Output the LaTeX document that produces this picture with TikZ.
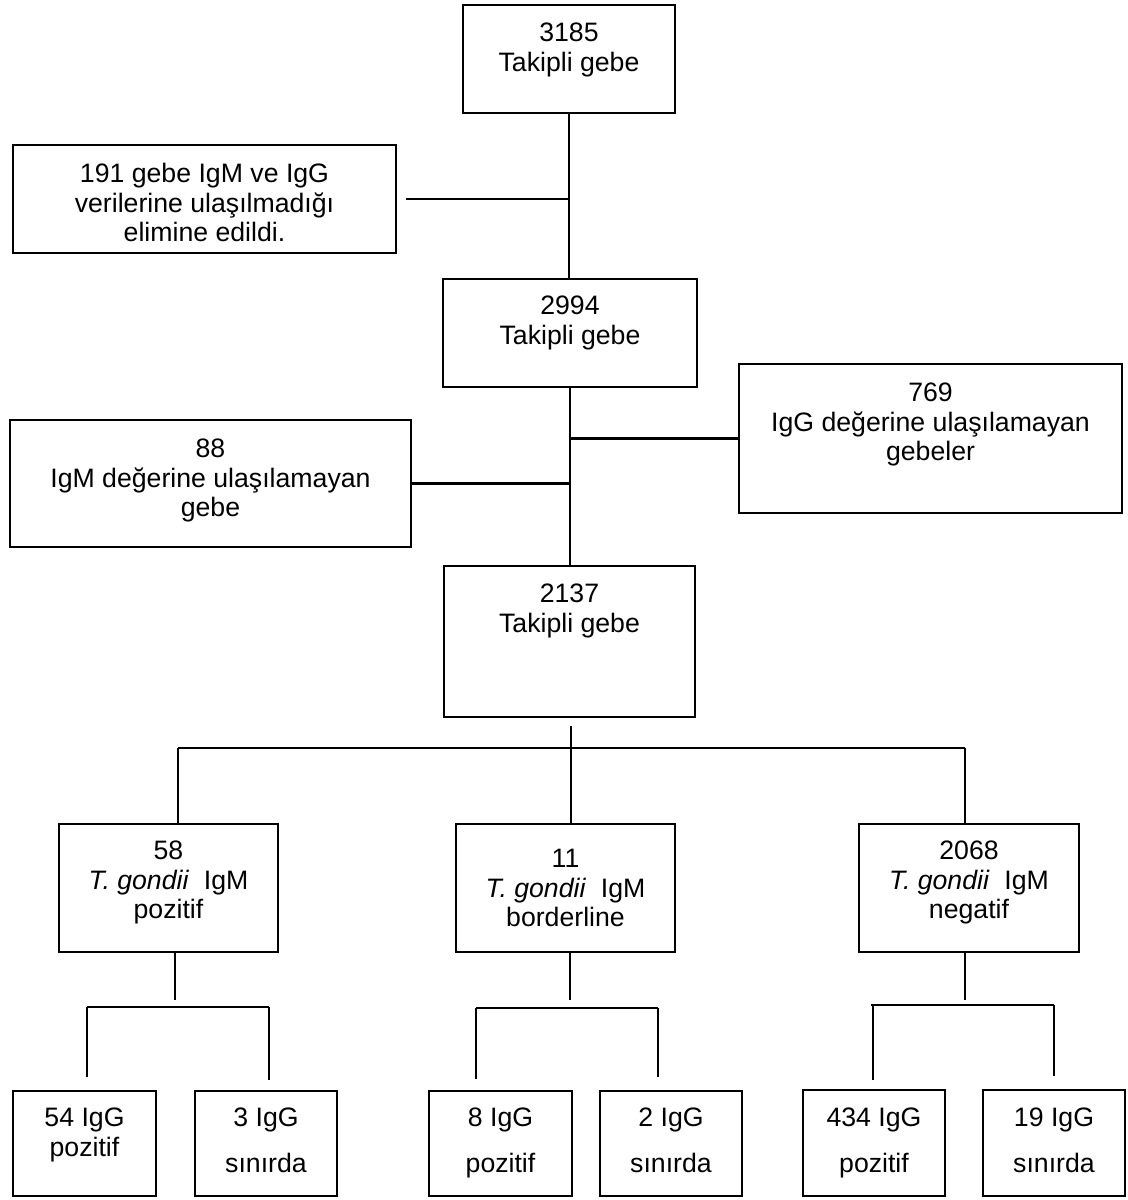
\documentclass[tikz,border=0pt]{standalone}
\usepackage{fontspec}
\setmainfont{Liberation Sans}
\usetikzlibrary{fit}
\begin{document}
\begin{tikzpicture}[x=0.75pt,y=-0.75pt,
  box/.style={draw=black, line width=2pt, inner sep=0pt},
  txt/.style={anchor=north, inner sep=0pt, align=center, font=\fontsize{20pt}{22.1pt}\selectfont},
  conn/.style={draw=black, line width=2pt}]
\useasboundingbox (0,0) rectangle (1128,1200);
\fill[white] (0,0) rectangle (1128,1200);

% boxes
\node[box, fit={(463,5) (675,113)}] (A) {};
\node[box, fit={(13,145) (396,253)}] (B) {};
\node[box, fit={(443,279) (697,387)}] (C) {};
\node[box, fit={(739,364) (1122,513)}] (D) {};
\node[box, fit={(10,420) (411,547)}] (E) {};
\node[box, fit={(444,566) (695,717)}] (F) {};
\node[box, fit={(59,824) (278,952)}] (G) {};
\node[box, fit={(456,824) (675,952)}] (H) {};
\node[box, fit={(859,824) (1079,952)}] (I) {};
\node[box, fit={(13,1091) (156,1196)}] (J) {};
\node[box, fit={(195,1091) (337,1196)}] (K) {};
\node[box, fit={(429,1091) (572,1196)}] (L) {};
\node[box, fit={(600,1091) (742,1196)}] (M) {};
\node[box, fit={(803,1090) (945,1196)}] (N) {};
\node[box, fit={(983,1090) (1125,1196)}] (O) {};

% texts
\node[txt] (At) at (569,23) {3185\\Takipli gebe};
\node[txt] (Bt) at (204.5,163) {191 gebe IgM ve IgG\\verilerine ulaşılmadığı\\elimine edildi.};
\node[txt] (Ct) at (570,296) {2994\\Takipli gebe};
\node[txt] (Dt) at (930.5,383) {769\\IgG değerine ulaşılamayan\\gebeler};
\node[txt] (Et) at (210.5,439) {88\\IgM değerine ulaşılamayan\\gebe};
\node[txt] (Ft) at (569.5,584) {2137\\Takipli gebe};
\node[txt] (Gt) at (168.5,841) {58\\\textit{T. gondii}\ \ IgM\\pozitif};
\node[txt] (Ht) at (565.5,849) {11\\\textit{T. gondii}\ \ IgM\\borderline};
\node[txt] (It) at (969,841) {2068\\\textit{T. gondii}\ \ IgM\\negatif};
\node[txt] (Jt) at (84.5,1108) {54 IgG\\pozitif};
\node[txt] (Kt) at (266,1108) {3 IgG\\[12.4pt]sınırda};
\node[txt] (Lt) at (500.5,1108) {8 IgG\\[12.4pt]pozitif};
\node[txt] (Mt) at (671,1108) {2 IgG\\[12.4pt]sınırda};
\node[txt] (Nt) at (874,1108) {434 IgG\\[12.4pt]pozitif};
\node[txt] (Ot) at (1054,1108) {19 IgG\\[12.4pt]sınırda};

% upper trunk
\draw[conn] (A.south) -- (A.south |- C.north);
\draw[conn, shorten <=6.75pt] (B.east) -- (B.east -| A.south);
\draw[conn] (C.south) -- (C.south |- F.north);
\draw[conn] (D.west) -- (D.west -| C.south);
\draw[conn] (E.east) -- (E.east -| C.south);

% first bus
\coordinate (busL) at (178,748);
\coordinate (busM) at (571,748);
\coordinate (busR) at (965,748);
\draw[conn, shorten <=6pt] (F.south -| busM) -- (busM |- H.north);
\draw[conn] (busL) -- (busR);
\draw[conn] (busL) -- (busL |- G.north);
\draw[conn] (busR) -- (busR |- I.north);

% left sub-tree
\coordinate (g1) at (175,1000);
\coordinate (gbl) at (87,1007);
\coordinate (gbr) at (269,1007);
\draw[conn] (G.south -| g1) -- (g1);
\draw[conn] (gbl) -- (gbr);
\draw[conn, shorten >=9.75pt] (gbl) -- (gbl |- J.north);
\draw[conn, shorten >=7.5pt] (gbr) -- (gbr |- K.north);

% middle sub-tree
\coordinate (h1) at (570,1000);
\coordinate (hbl) at (476,1008);
\coordinate (hbr) at (658,1008);
\draw[conn] (H.south -| h1) -- (h1);
\draw[conn] (hbl) -- (hbr);
\draw[conn, shorten >=8.25pt] (hbl) -- (hbl |- L.north);
\draw[conn, shorten >=9.75pt] (hbr) -- (hbr |- M.north);

% right sub-tree
\coordinate (i1) at (965,1000);
\coordinate (ibl) at (871,1005);
\coordinate (ibr) at (1054,1005);
\draw[conn] (I.south -| i1) -- (i1);
\draw[conn] (ibl) -- (ibr);
\draw[conn, shorten >=6.75pt] ([xshift=1.5pt]ibl) -- ([xshift=1.5pt]ibl |- N.north);
\draw[conn, shorten >=9.75pt] (ibr) -- (ibr |- O.north);
\end{tikzpicture}
\end{document}
